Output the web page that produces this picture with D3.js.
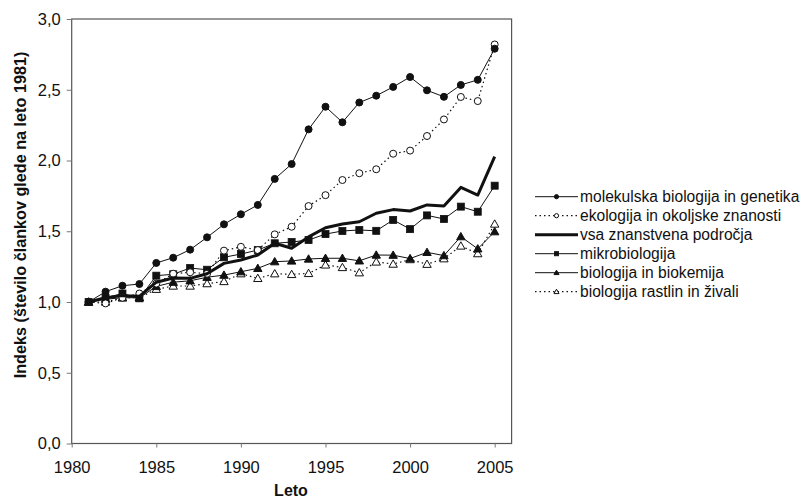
<!DOCTYPE html>
<html><head><meta charset="utf-8">
<script src="https://cdn.jsdelivr.net/npm/d3@7"></script>
<style>body{margin:0;background:#fff}svg{display:block}text{font-family:Arial,"Liberation Sans",sans-serif;fill:#111}</style>
</head><body>
<svg id="c" width="800" height="499"></svg>
<script>
const years = d3.range(1981, 2006);
const molekulska = [1.00,1.073,1.115,1.127,1.276,1.313,1.37,1.457,1.549,1.62,1.686,1.87,1.975,2.22,2.38,2.27,2.41,2.458,2.52,2.59,2.496,2.45,2.534,2.57,2.79];
const ekologija = [1.00,0.99,1.03,1.06,1.13,1.20,1.21,1.20,1.363,1.39,1.367,1.478,1.532,1.678,1.755,1.862,1.91,1.938,2.048,2.07,2.173,2.29,2.449,2.42,2.82];
const vsa = [1.00,1.03,1.045,1.04,1.14,1.17,1.167,1.2,1.273,1.297,1.332,1.415,1.38,1.46,1.525,1.551,1.567,1.627,1.653,1.643,1.686,1.678,1.81,1.756,2.027];
const mikro = [1.00,1.03,1.06,1.026,1.186,1.196,1.24,1.228,1.316,1.339,1.367,1.415,1.424,1.438,1.48,1.502,1.509,1.503,1.58,1.515,1.612,1.587,1.674,1.638,1.822];
const biokemija = [1.00,1.02,1.03,1.03,1.11,1.14,1.15,1.175,1.19,1.214,1.238,1.285,1.29,1.304,1.309,1.309,1.291,1.332,1.331,1.307,1.351,1.328,1.462,1.376,1.497];
const rastlin = [1.00,1.00,1.03,1.03,1.09,1.113,1.113,1.13,1.145,1.2,1.167,1.2,1.195,1.202,1.262,1.244,1.207,1.283,1.268,1.3,1.267,1.306,1.396,1.342,1.551];
const seriesNames = ["molekulska biologija in genetika","ekologija in okoljske znanosti","vsa znanstvena področja","mikrobiologija","biologija in biokemija","biologija rastlin in živali"];
const xTicks = [1980,1985,1990,1995,2000,2005];
const yTicks = [0,0.5,1,1.5,2,2.5,3];
const xTitle = "Leto";
const yTitle = "Indeks (število člankov glede na leto 1981)";

const series = [
  {name:seriesNames[0], values:molekulska, marker:"circle", fill:"#111", width:1, dash:null},
  {name:seriesNames[1], values:ekologija, marker:"circle", fill:"#fff", width:1.2, dash:"1.5,3"},
  {name:seriesNames[2], values:vsa, marker:null, fill:null, width:3, dash:null},
  {name:seriesNames[3], values:mikro, marker:"square", fill:"#111", width:1, dash:null},
  {name:seriesNames[4], values:biokemija, marker:"triangle", fill:"#111", width:1, dash:null},
  {name:seriesNames[5], values:rastlin, marker:"triangle", fill:"#fff", width:1.2, dash:"1.5,3"}
];

const svg = d3.select("#c");
const L=71.7, R=511.6, T=19, B=443.5;
const x = d3.scaleLinear().domain([1980,2006]).range([L,R]);
const y = d3.scaleLinear().domain([0,3]).range([B,T]);

svg.append("rect").attr("x",L).attr("y",T).attr("width",R-L).attr("height",B-T)
  .attr("fill","none").attr("stroke","#555").attr("stroke-width",1.2);

const fmt = d => d.toFixed(1).replace(".", ",");
const gx = svg.append("g").attr("transform",`translate(0,${B})`)
  .call(d3.axisBottom(x).tickValues(xTicks).tickFormat(d3.format("d")).tickSize(4).tickPadding(14));
const gy = svg.append("g").attr("transform",`translate(${L},0)`)
  .call(d3.axisLeft(y).tickValues(yTicks).tickFormat(fmt).tickSize(5).tickPadding(6));
[gx,gy].forEach(g=>{
  g.select(".domain").remove();
  g.selectAll(".tick line").attr("stroke","#777");
  g.selectAll(".tick text").attr("font-size",16.5).attr("fill","#111")
   .style("font-family","Arial, 'Liberation Sans', sans-serif");
});

svg.append("text").attr("x",291).attr("y",496).attr("text-anchor","middle")
  .attr("font-size",16).attr("font-weight","bold").text(xTitle);
svg.append("text").attr("transform","translate(26,215) rotate(-90)").attr("text-anchor","middle")
  .attr("font-size",16.2).attr("font-weight","bold").text(yTitle);

function drawMarker(g, type, cx, cy, fill, s) {
  if (type==="circle") {
    g.append("circle").attr("cx",cx).attr("cy",cy).attr("r",3.5*s)
      .attr("fill",fill).attr("stroke","#111").attr("stroke-width",1);
  } else if (type==="square") {
    const h=3.5*s;
    g.append("rect").attr("x",cx-h).attr("y",cy-h).attr("width",2*h).attr("height",2*h)
      .attr("fill",fill).attr("stroke","#111").attr("stroke-width",0.8);
  } else if (type==="triangle") {
    const h=4.2*s;
    g.append("path").attr("d",`M${cx},${cy-h}L${cx+h},${cy+h*0.75}L${cx-h},${cy+h*0.75}Z`)
      .attr("fill",fill).attr("stroke","#111").attr("stroke-width",1);
  }
}

const line = d3.line().x((d,i)=>x(years[i])).y(d=>y(d));
const plot = svg.append("g");
[5,4,3,1,2,0].forEach(k=>{
  const s = series[k];
  const g = plot.append("g");
  g.append("path").attr("d",line(s.values)).attr("fill","none").attr("stroke","#111")
    .attr("stroke-width",s.width).attr("stroke-dasharray",s.dash).attr("stroke-linejoin","round");
  if (s.marker) s.values.forEach((v,i)=>drawMarker(g,s.marker,x(years[i]),y(v),s.fill,1));
});

const leg = svg.append("g");
series.forEach((s,i)=>{
  const cy = 196.7 + i*19;
  leg.append("line").attr("x1",535).attr("x2",578).attr("y1",cy).attr("y2",cy)
    .attr("stroke","#111").attr("stroke-width",s.width).attr("stroke-dasharray",s.dash);
  if (s.marker) drawMarker(leg,s.marker,556.5,cy,s.fill,0.6);
  leg.append("text").attr("x",580).attr("y",cy).attr("dy","0.35em")
    .attr("font-size",15.6).text(s.name);
});
</script>
</body></html>
